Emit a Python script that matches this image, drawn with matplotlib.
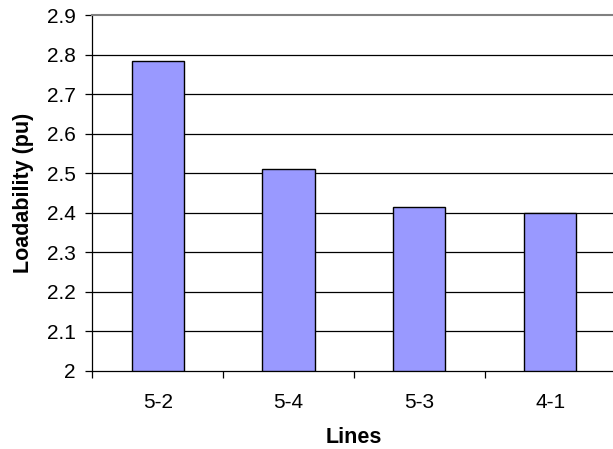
import matplotlib
matplotlib.use("Agg")
import matplotlib.pyplot as plt
import numpy as np

categories = ["5-2", "5-4", "5-3", "4-1"]
loadability = [2.783, 2.510, 2.415, 2.399]
yticks = [2.0, 2.1, 2.2, 2.3, 2.4, 2.5, 2.6, 2.7, 2.8, 2.9]
ytick_labels = ["2", "2.1", "2.2", "2.3", "2.4", "2.5", "2.6", "2.7", "2.8", "2.9"]

plt.rcParams['font.family'] = ['Liberation Sans', 'DejaVu Sans']

fig = plt.figure(figsize=(6.13, 4.49), dpi=100)
ax = fig.add_axes([92.3/613, 1-370.7/449, (615.5-92.3)/613, (370.7-15)/449])

x = np.arange(len(categories))
ax.bar(x, [v - 2.0 for v in loadability], bottom=2.0, width=0.4,
       color="#9999FF", edgecolor="black", linewidth=1.0, zorder=3)

ax.set_xlim(-0.5, len(categories) - 0.5)
ax.set_ylim(2.0, 2.9)
ax.set_yticks(yticks)
ax.set_yticklabels(ytick_labels, fontsize=15)
for y in yticks[1:-1]:
    ax.axhline(y, color="black", linewidth=0.9, zorder=1)

ax.set_xticks(x)
ax.set_xticklabels(categories, fontsize=15)
ax.tick_params(axis='x', length=0, pad=16)
ax.set_xticks(np.arange(-0.5, len(categories) + 0.5, 1.0), minor=True)
ax.tick_params(axis='x', which='minor', length=5, width=0.9, direction='out', color='black')
ax.tick_params(axis='y', length=5, width=0.9, direction='out', pad=7)

ax.spines["right"].set_visible(False)
ax.spines["top"].set_color("#808080")
ax.spines["top"].set_linewidth(1.5)
ax.spines["left"].set_linewidth(0.9)
ax.spines["bottom"].set_linewidth(0.9)

ax.set_xlabel("Lines", fontsize=15.5, fontweight="bold", labelpad=11)
ax.set_ylabel("Loadability (pu)", fontsize=15.5, fontweight="bold", labelpad=9)

fig.savefig("out.png", dpi=100)
